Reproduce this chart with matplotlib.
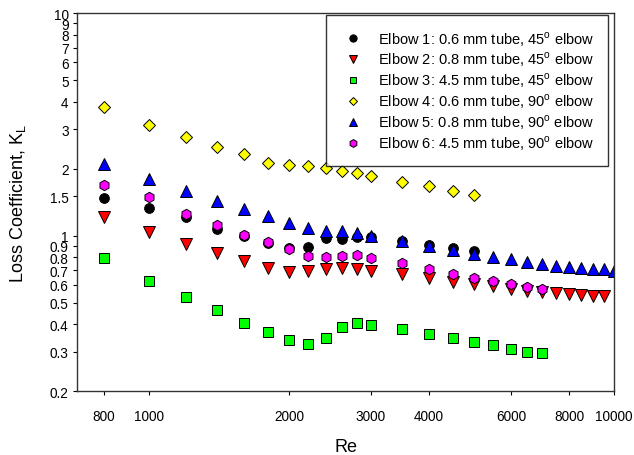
import numpy as np
import matplotlib
matplotlib.use("Agg")
from matplotlib import pyplot as plt
from matplotlib.ticker import FixedLocator, NullLocator, FixedFormatter

plt.rcParams['font.family'] = ['Liberation Sans', 'DejaVu Sans']
plt.rcParams['mathtext.fontset'] = 'custom'
plt.rcParams['mathtext.rm'] = 'Liberation Sans'

# Reynolds numbers used in the tests
re_values = [800, 1000, 1200, 1400, 1600, 1800, 2000, 2200, 2400, 2600, 2800, 3000,
             3500, 4000, 4500, 5000, 5500, 6000, 6500, 7000, 7500, 8000, 8500, 9000,
             9500, 10000]

# Loss coefficients
k_elbow1 = [1.48, 1.33, 1.21, 1.07, 1.00, 0.93, 0.88, 0.893, 0.98, 0.97, 0.99, 0.983,
            0.944, 0.908, 0.88, 0.857]
k_elbow2 = [1.21, 1.04, 0.918, 0.839, 0.773, 0.719, 0.688, 0.692, 0.711, 0.714, 0.709,
            0.695, 0.671, 0.644, 0.622, 0.605, 0.591, 0.578, 0.565, 0.557, 0.552, 0.546,
            0.542, 0.538, 0.535]
k_elbow3 = [0.792, 0.626, 0.532, 0.462, 0.406, 0.369, 0.340, 0.327, 0.347, 0.390, 0.405,
            0.397, 0.379, 0.361, 0.347, 0.333, 0.321, 0.310, 0.301, 0.297]
k_elbow4 = [3.79, 3.15, 2.77, 2.51, 2.32, 2.13, 2.07, 2.06, 2.02, 1.96, 1.92, 1.85,
            1.75, 1.67, 1.59, 1.53]
k_elbow5 = [2.09, 1.79, 1.59, 1.43, 1.32, 1.22, 1.14, 1.08, 1.05, 1.05, 1.025, 1.0,
            0.95, 0.90, 0.863, 0.828, 0.805, 0.784, 0.76, 0.744, 0.731, 0.722, 0.714,
            0.707, 0.707, 0.697]
k_elbow6 = [1.69, 1.49, 1.25, 1.12, 1.01, 0.94, 0.87, 0.81, 0.80, 0.81, 0.816, 0.797,
            0.752, 0.711, 0.675, 0.648, 0.626, 0.607, 0.587, 0.578]

labels = ["Elbow 1: 0.6 mm tube, 45$^\\mathrm{o}$ elbow",
          "Elbow 2: 0.8 mm tube, 45$^\\mathrm{o}$ elbow",
          "Elbow 3: 4.5 mm tube, 45$^\\mathrm{o}$ elbow",
          "Elbow 4: 0.6 mm tube, 90$^\\mathrm{o}$ elbow",
          "Elbow 5: 0.8 mm tube, 90$^\\mathrm{o}$ elbow",
          "Elbow 6: 4.5 mm tube, 90$^\\mathrm{o}$ elbow"]

x_ticks = [800, 1000, 2000, 3000, 4000, 6000, 8000, 10000]
y_ticks = [0.2, 0.3, 0.4, 0.5, 0.6, 0.7, 0.8, 0.9, 1, 1.5, 2, 3, 4, 5, 6, 7, 8, 9, 10]

series = [k_elbow1, k_elbow2, k_elbow3, k_elbow4, k_elbow5, k_elbow6]
markers = ['o', 'v', 's', 'D', '^', 'h']
colors = ['black', '#FF0000', '#00FF00', '#FFFF00', '#0000FF', '#FF00FF']
sizes = [7, 8, 6.5, 6, 8, 7.5]

fig = plt.figure(figsize=(6.34, 4.56), dpi=100)
ax = fig.add_axes([0.1215, 0.140, 0.847, 0.829])

for k, m, c, s, lab in zip(series, markers, colors, sizes, labels):
    ax.plot(re_values[:len(k)], k, linestyle='none', marker=m, markersize=s,
            markerfacecolor=c, markeredgecolor='black', markeredgewidth=0.7, label=lab)

ax.set_xscale('log')
ax.set_yscale('log')
ax.set_xlim(700, 10000)
ax.set_ylim(0.2, 10)

ax.xaxis.set_major_locator(FixedLocator(x_ticks))
ax.xaxis.set_major_formatter(FixedFormatter([str(t) for t in x_ticks]))
ax.xaxis.set_minor_locator(NullLocator())
ax.yaxis.set_major_locator(FixedLocator(y_ticks))
ax.yaxis.set_major_formatter(FixedFormatter([f"{t:g}" for t in y_ticks]))
ax.yaxis.set_minor_locator(NullLocator())
ax.tick_params(axis='x', direction='out', length=3, pad=10, labelsize=9.8)
ax.tick_params(axis='y', direction='out', length=3, pad=3, labelsize=9.8)
for sp in ax.spines.values():
    sp.set_linewidth(1.0)
    sp.set_color('#333333')

ax.set_xlabel("Re", fontsize=13, labelpad=11)
ax.set_ylabel("Loss Coefficient, K$_\\mathrm{L}$", fontsize=13, labelpad=16)

leg = ax.legend(loc='upper right', fontsize=10.5, frameon=True, fancybox=False,
                edgecolor='black', markerscale=0.75, handlelength=1.8, handletextpad=0.8,
                labelspacing=0.15, borderpad=0.95, borderaxespad=0,
                bbox_to_anchor=(0.989, 0.995))
leg.get_frame().set_linewidth(1.0)

fig.savefig("out.png", dpi=100)
